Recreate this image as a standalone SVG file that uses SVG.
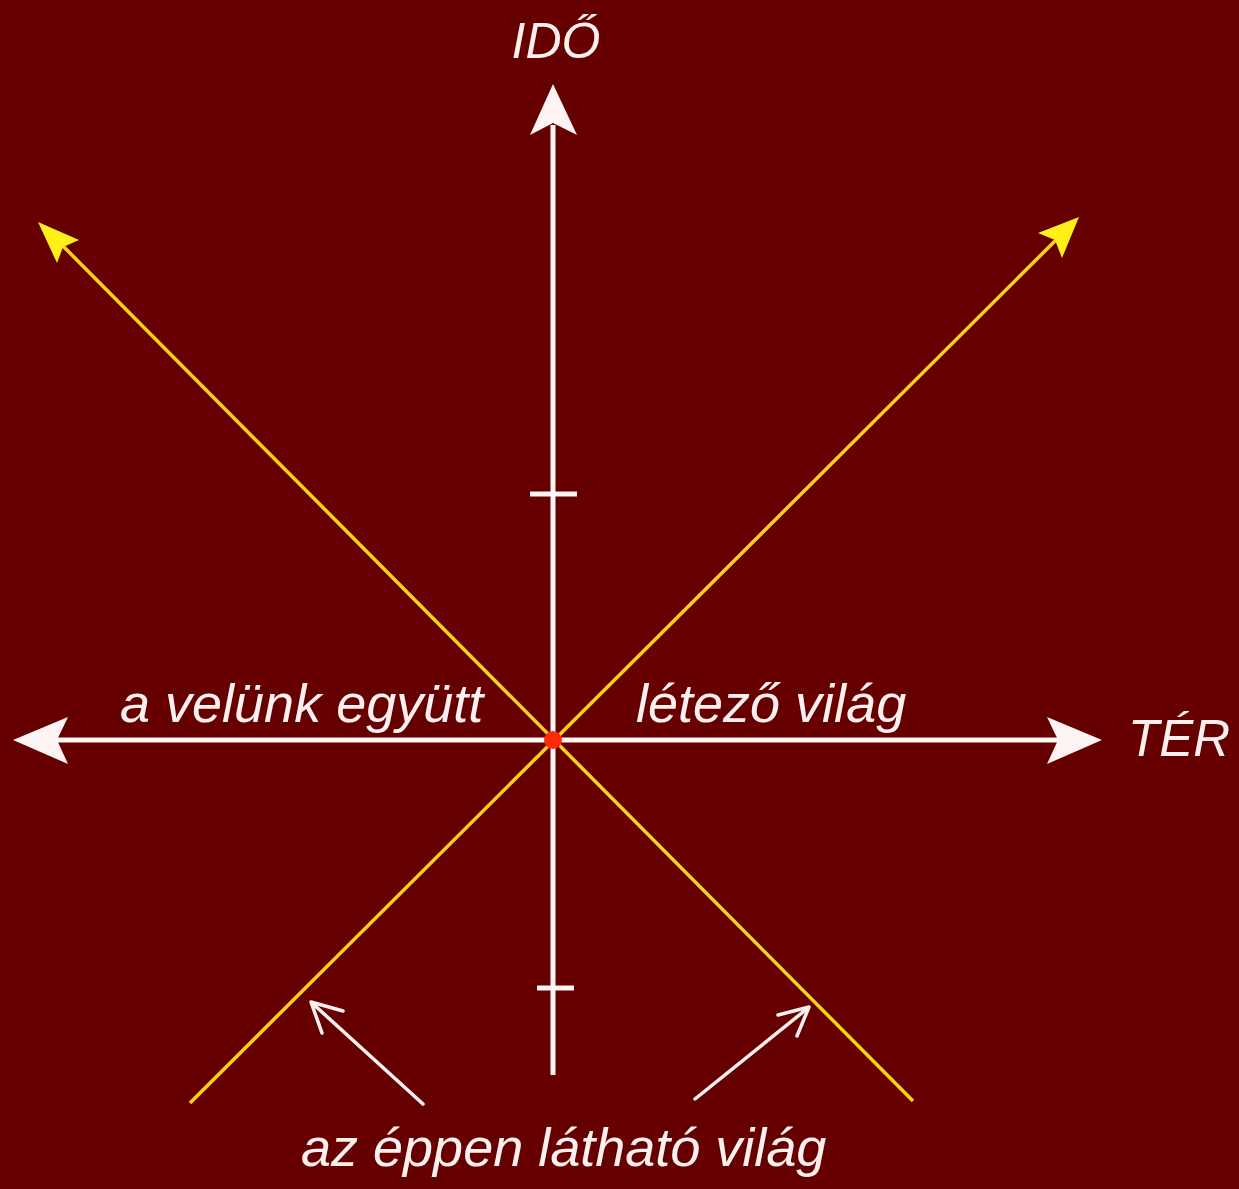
<svg xmlns="http://www.w3.org/2000/svg" width="1239" height="1189" viewBox="0 0 1239 1189">
<style>
.lbl{font-family:"Liberation Sans",Arial,sans-serif;font-style:italic;fill:#fff0f0}
.ax{stroke:#fff4f4;stroke-width:5;fill:none}
.yl{stroke:#ffd21a;stroke-width:3.5;fill:none}
.wa{fill:#fff4f4}
.ya{fill:#fff01a}
.sa{stroke:#fff0f0;stroke-width:3.5;fill:none;stroke-linecap:round;stroke-linejoin:round}
</style>
<rect width="1239" height="1189" fill="#660000"/>
<g id="connectors">
  <line class="yl" x1="56" y1="239" x2="913" y2="1101"/>
  <line class="yl" x1="1062" y1="234" x2="190" y2="1103"/>
  <line class="ax" x1="553" y1="125" x2="553" y2="1075"/>
  <line class="ax" x1="55" y1="740" x2="1060" y2="740"/>
  <line class="ax" x1="530" y1="494" x2="577" y2="494"/>
  <line class="ax" x1="537" y1="988" x2="574" y2="988"/>
  <polygon class="wa" points="553,84 577,135 553,123 530,135"/>
  <polygon class="wa" points="13,740 68,717 57,740 68,764"/>
  <polygon class="wa" points="1102,740 1047,717 1058,740 1047,764"/>
  <polygon class="ya" points="38,222 79,240 63,247 57,263"/>
  <polygon class="ya" points="1079,217 1038,233 1055,240 1062,258"/>
  <line class="sa" x1="423" y1="1104" x2="312" y2="1003"/>
  <polyline class="sa" points="343,1011 311,1002 322,1033"/>
  <line class="sa" x1="695" y1="1099" x2="808" y2="1008"/>
  <polyline class="sa" points="778,1015 809,1007 797,1036"/>
</g>
<g id="origin"><circle cx="553" cy="740" r="9" fill="#ff2a0a"/></g>
<g id="label-ido"><text class="lbl" x="556" y="58" font-size="50" text-anchor="middle">IDŐ</text></g>
<g id="label-ter"><text class="lbl" x="1128" y="756" font-size="51">TÉR</text></g>
<g id="label-left"><text class="lbl" x="120" y="722" font-size="54">a velünk együtt</text></g>
<g id="label-right"><text class="lbl" x="636" y="722" font-size="54">létező világ</text></g>
<g id="label-bottom"><text class="lbl" x="301" y="1166" font-size="54">az éppen látható világ</text></g>
</svg>
